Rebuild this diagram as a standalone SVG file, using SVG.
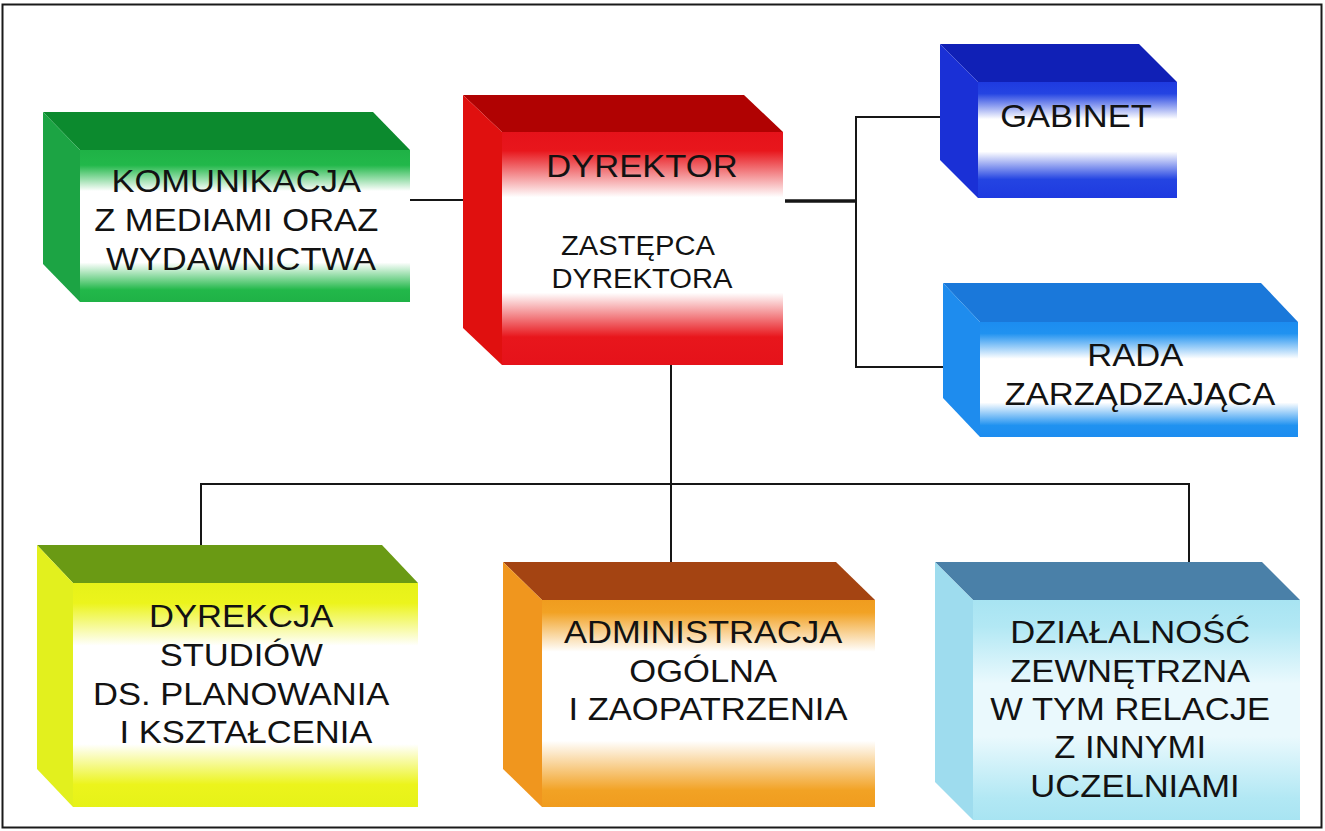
<svg xmlns="http://www.w3.org/2000/svg" width="1325" height="831" viewBox="0 0 1325 831">
  <style>
    .frame { fill: #ffffff; stroke: #1a1a1a; stroke-width: 2; }
    .wire { fill: none; stroke: #161616; stroke-width: 2; stroke-linecap: square; }
    .wire-heavy { fill: none; stroke: #161616; stroke-width: 3.5; }
    .lbl { font-family: "Liberation Sans", Arial, sans-serif; font-size: 32px; fill: #121212; text-anchor: middle; }
    .lbl-sm { font-size: 27px; }
  </style>
  <defs>
    <linearGradient id="fGreen" x1="0" y1="0" x2="0" y2="1">
      <stop offset="0" stop-color="#1fb246"/>
      <stop offset="0.1" stop-color="#22b84a"/>
      <stop offset="0.27" stop-color="#ffffff"/>
      <stop offset="0.74" stop-color="#ffffff"/>
      <stop offset="0.92" stop-color="#22b84a"/>
      <stop offset="1" stop-color="#1fb246"/>
    </linearGradient>
    <linearGradient id="fRed" x1="0" y1="0" x2="0" y2="1">
      <stop offset="0" stop-color="#e5121a"/>
      <stop offset="0.08" stop-color="#e8161c"/>
      <stop offset="0.28" stop-color="#ffffff"/>
      <stop offset="0.69" stop-color="#ffffff"/>
      <stop offset="0.88" stop-color="#e8161c"/>
      <stop offset="1" stop-color="#e5121a"/>
    </linearGradient>
    <linearGradient id="fBlue" x1="0" y1="0" x2="0" y2="1">
      <stop offset="0" stop-color="#1e3ae0"/>
      <stop offset="0.1" stop-color="#2444e2"/>
      <stop offset="0.32" stop-color="#ffffff"/>
      <stop offset="0.6" stop-color="#ffffff"/>
      <stop offset="0.84" stop-color="#2444e2"/>
      <stop offset="1" stop-color="#1e3ae0"/>
    </linearGradient>
    <linearGradient id="fSky" x1="0" y1="0" x2="0" y2="1">
      <stop offset="0" stop-color="#1c8cf0"/>
      <stop offset="0.1" stop-color="#2092f0"/>
      <stop offset="0.32" stop-color="#ffffff"/>
      <stop offset="0.7" stop-color="#ffffff"/>
      <stop offset="0.9" stop-color="#2092f0"/>
      <stop offset="1" stop-color="#1c8cf0"/>
    </linearGradient>
    <linearGradient id="fYellow" x1="0" y1="0" x2="0" y2="1">
      <stop offset="0" stop-color="#e6f218"/>
      <stop offset="0.09" stop-color="#ecf41c"/>
      <stop offset="0.28" stop-color="#ffffff"/>
      <stop offset="0.72" stop-color="#ffffff"/>
      <stop offset="0.9" stop-color="#ecf41c"/>
      <stop offset="1" stop-color="#e6f218"/>
    </linearGradient>
    <linearGradient id="fOrange" x1="0" y1="0" x2="0" y2="1">
      <stop offset="0" stop-color="#f09c1e"/>
      <stop offset="0.06" stop-color="#f2a224"/>
      <stop offset="0.25" stop-color="#ffffff"/>
      <stop offset="0.68" stop-color="#ffffff"/>
      <stop offset="0.92" stop-color="#f2a224"/>
      <stop offset="1" stop-color="#f09c1e"/>
    </linearGradient>
    <linearGradient id="fCyan" x1="0" y1="0" x2="0" y2="1">
      <stop offset="0" stop-color="#a8e4f2"/>
      <stop offset="0.12" stop-color="#b2e8f4"/>
      <stop offset="0.38" stop-color="#eaf9fd"/>
      <stop offset="0.62" stop-color="#eaf9fd"/>
      <stop offset="0.9" stop-color="#b2e8f4"/>
      <stop offset="1" stop-color="#a8e4f2"/>
    </linearGradient>
  </defs>

  <!-- outer frame -->
  <rect class="frame" x="2.5" y="4.5" width="1319" height="823"/>

  <!-- connectors -->
  <g id="connectors">
    <path class="wire" d="M410 200 H463"/>
    <path class="wire-heavy" d="M785 201 H856"/>
    <path class="wire" d="M856 117 V367 M856 117 H940 M856 367 H943"/>
    <path class="wire" d="M671 365 V562 M201 484 H1189 M201 484 V545 M1189 484 V562"/>
  </g>

  <!-- media & publications -->
  <g id="node-komunikacja">
    <polygon points="43,112 373,112 410,150 80,150" fill="#0c8a2e"/>
    <polygon points="43,112 80,150 80,302 43,264" fill="#1ca444"/>
    <rect x="80" y="150" width="330" height="152" fill="url(#fGreen)"/>
    <text class="lbl" transform="translate(241 0) scale(1.08 1)">
      <tspan x="0" y="192">KOMUNIKACJA</tspan>
      <tspan x="0" y="231">Z MEDIAMI ORAZ</tspan>
      <tspan x="0" y="270">WYDAWNICTWA</tspan>
    </text>
  </g>

  <!-- director -->
  <g id="node-dyrektor">
    <polygon points="463,95 744,95 783,132 502,132" fill="#b00202"/>
    <polygon points="463,95 502,132 502,365 463,328" fill="#e0100f"/>
    <rect x="502" y="132" width="281" height="233" fill="url(#fRed)"/>
    <text class="lbl" transform="translate(642 0) scale(1.08 1)">
      <tspan x="0" y="177">DYREKTOR</tspan>
    </text>
    <text class="lbl lbl-sm" transform="translate(642 0) scale(1.08 1)">
      <tspan x="0" y="255">ZASTĘPCA</tspan>
      <tspan x="0" y="288">DYREKTORA</tspan>
    </text>
  </g>

  <!-- office -->
  <g id="node-gabinet">
    <polygon points="940,44 1139,44 1177,82 978,82" fill="#1020b6"/>
    <polygon points="940,44 978,82 978,198 940,160" fill="#1a30d6"/>
    <rect x="978" y="82" width="199" height="116" fill="url(#fBlue)"/>
    <text class="lbl" transform="translate(1076 0) scale(1.08 1)">
      <tspan x="0" y="127">GABINET</tspan>
    </text>
  </g>

  <!-- management board -->
  <g id="node-rada">
    <polygon points="943,283 1261,283 1298,322 980,322" fill="#1a78da"/>
    <polygon points="943,283 980,322 980,437 943,398" fill="#1e8cee"/>
    <rect x="980" y="322" width="318" height="115" fill="url(#fSky)"/>
    <text class="lbl" transform="translate(1140 0) scale(1.08 1)">
      <tspan x="0" y="366">RADA</tspan>
      <tspan x="0" y="405">ZARZĄDZAJĄCA</tspan>
    </text>
  </g>

  <!-- studies directorate -->
  <g id="node-dyrekcja">
    <polygon points="37,545 382,545 418,583 73,583" fill="#6a9a14"/>
    <polygon points="37,545 73,583 73,807 37,769" fill="#e2f01e"/>
    <rect x="73" y="583" width="345" height="224" fill="url(#fYellow)"/>
    <text class="lbl" transform="translate(246 0) scale(1.08 1)">
      <tspan x="0" y="627">DYREKCJA</tspan>
      <tspan x="0" y="666">STUDIÓW</tspan>
      <tspan x="0" y="705">DS. PLANOWANIA</tspan>
      <tspan x="0" y="743">I KSZTAŁCENIA</tspan>
    </text>
  </g>

  <!-- general administration -->
  <g id="node-administracja">
    <polygon points="503,562 836,562 875,600 542,600" fill="#a44412"/>
    <polygon points="503,562 542,600 542,807 503,769" fill="#f0961e"/>
    <rect x="542" y="600" width="333" height="207" fill="url(#fOrange)"/>
    <text class="lbl" transform="translate(708 0) scale(1.08 1)">
      <tspan x="0" y="643">ADMINISTRACJA</tspan>
      <tspan x="0" y="682">OGÓLNA</tspan>
      <tspan x="0" y="720">I ZAOPATRZENIA</tspan>
    </text>
  </g>

  <!-- external activity -->
  <g id="node-dzialalnosc">
    <polygon points="935,562 1262,562 1300,600 973,600" fill="#4a80a8"/>
    <polygon points="935,562 973,600 973,820 935,782" fill="#9edcee"/>
    <rect x="973" y="600" width="327" height="220" fill="url(#fCyan)"/>
    <text class="lbl" transform="translate(1135 0) scale(1.08 1)">
      <tspan x="0" y="643">DZIAŁALNOŚĆ</tspan>
      <tspan x="0" y="682">ZEWNĘTRZNA</tspan>
      <tspan x="0" y="720">W TYM RELACJE</tspan>
      <tspan x="0" y="758">Z INNYMI</tspan>
      <tspan x="0" y="797">UCZELNIAMI</tspan>
    </text>
  </g>
</svg>
